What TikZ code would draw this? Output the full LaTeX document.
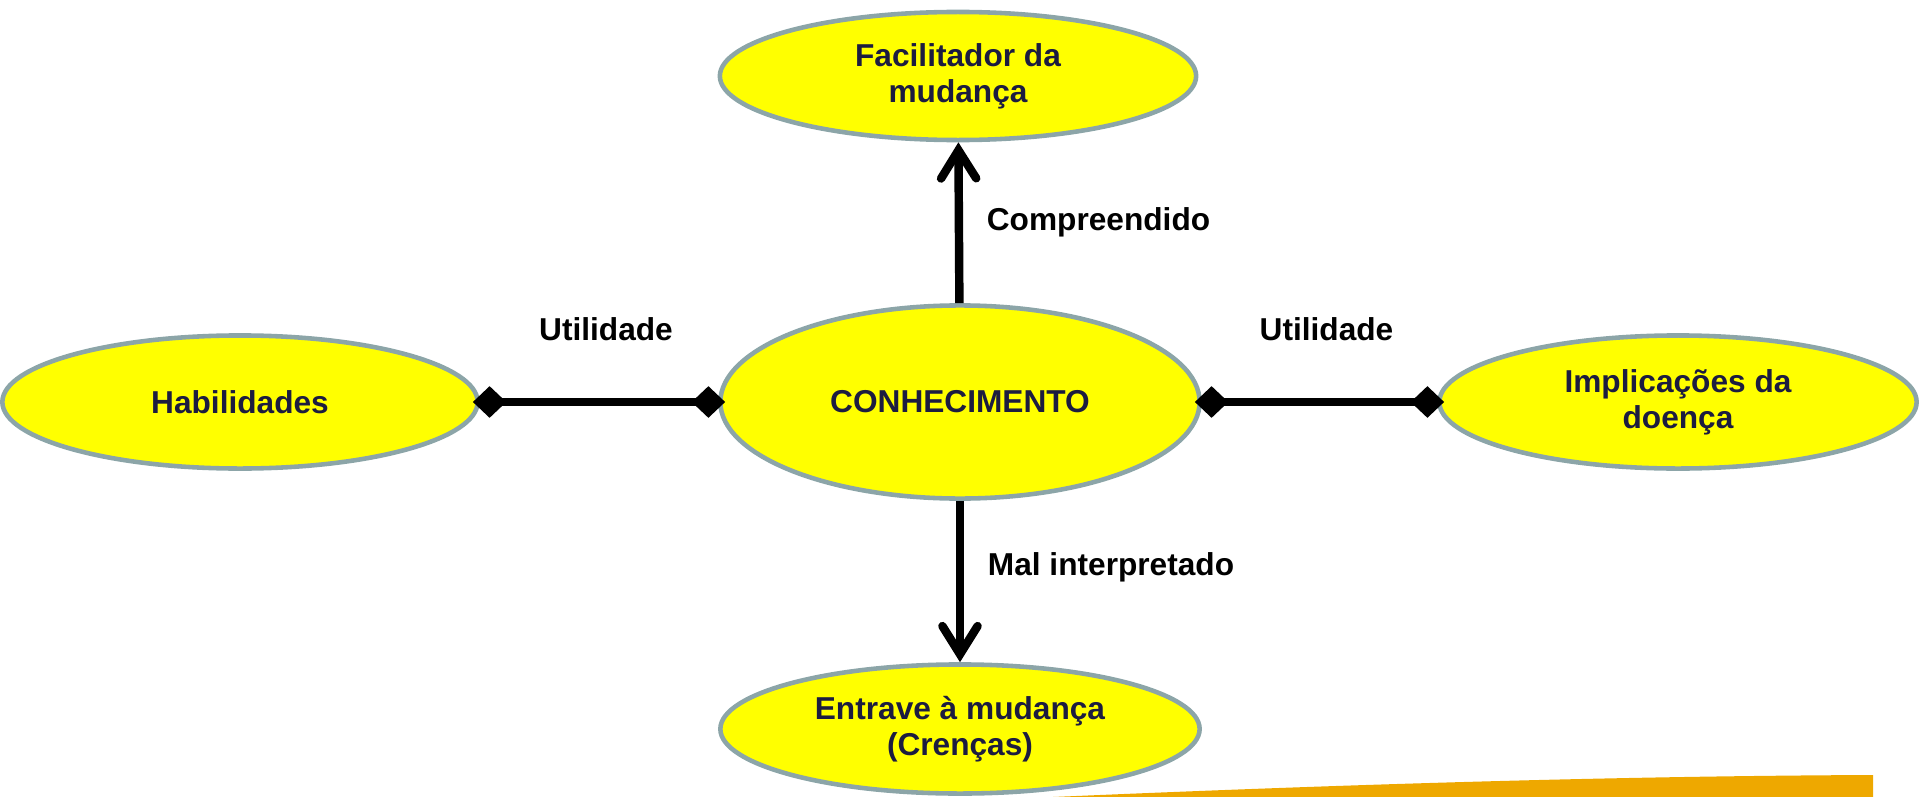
\documentclass[tikz,border=0pt]{standalone}
\usepackage{fontspec}
\setmainfont{Liberation Sans}
\usetikzlibrary{shapes.geometric,arrows.meta}
\definecolor{ellborder}{RGB}{140,165,168}
\definecolor{elltext}{RGB}{28,28,64}
\definecolor{barorange}{RGB}{238,168,0}
\definecolor{ellfill}{RGB}{255,255,0}
\tikzset{
  idea/.style = {ellipse, draw = ellborder, line width = 1.3pt, fill = ellfill, text = elltext,
    inner sep = 0pt, align = center, font = \fontsize{9}{10.2}\selectfont\bfseries},
  link/.style = {line width = 2.4pt, black},
  lbl/.style = {font = \fontsize{9}{10.2}\selectfont\bfseries, text = black}
}
\begin{document}
\begin{tikzpicture}[x = 0.01cm, y = -0.01cm]
\useasboundingbox (0,0) rectangle (1920,797);
% orange band at the bottom
\fill[barorange] (1053,797) .. controls (1400,782) and (1650,776) .. (1873,775) -- (1873,797) -- cycle;
% ellipses
\node[idea, minimum width = 4.76cm, minimum height = 1.28cm] (fac) at (958,76) {Facilitador da\\mudança};
\node[idea, minimum width = 4.79cm, minimum height = 1.93cm] (con) at (960,402) {CONHECIMENTO};
\node[idea, minimum width = 4.79cm, minimum height = 1.29cm] (ent) at (960,729) {Entrave à mudança\\(Crenças)};
\node[idea, minimum width = 4.75cm, minimum height = 1.33cm] (hab) at (240,402) {Habilidades};
\node[idea, minimum width = 4.77cm, minimum height = 1.33cm] (imp) at (1678,402) {Implicações da\\doença};
% connectors
\draw[link, -{Straight Barb[length = 8pt, width = 10pt, line cap = round]}] (con) -- node[lbl, pos = 0.5, anchor = west, xshift = 0.12cm] {Compreendido} (fac);
\draw[link, -{Straight Barb[length = 8pt, width = 10pt, line cap = round]}] (con) -- node[lbl, pos = 0.41, anchor = west, xshift = 0.12cm] {Mal interpretado} (ent);
\draw[link, {Diamond[length = 9.5pt, width = 9pt]}-{Diamond[length = 9.5pt, width = 9pt]}, shorten <= -2pt, shorten >= -2pt] (hab) -- node[lbl, pos = 0.5, yshift = 0.73cm, xshift = 0.07cm] {Utilidade} (con);
\draw[link, {Diamond[length = 9.5pt, width = 9pt]}-{Diamond[length = 9.5pt, width = 9pt]}, shorten <= -2pt, shorten >= -2pt] (con) -- node[lbl, pos = 0.5, yshift = 0.73cm, xshift = 0.07cm] {Utilidade} (imp);
\end{tikzpicture}
\end{document}
